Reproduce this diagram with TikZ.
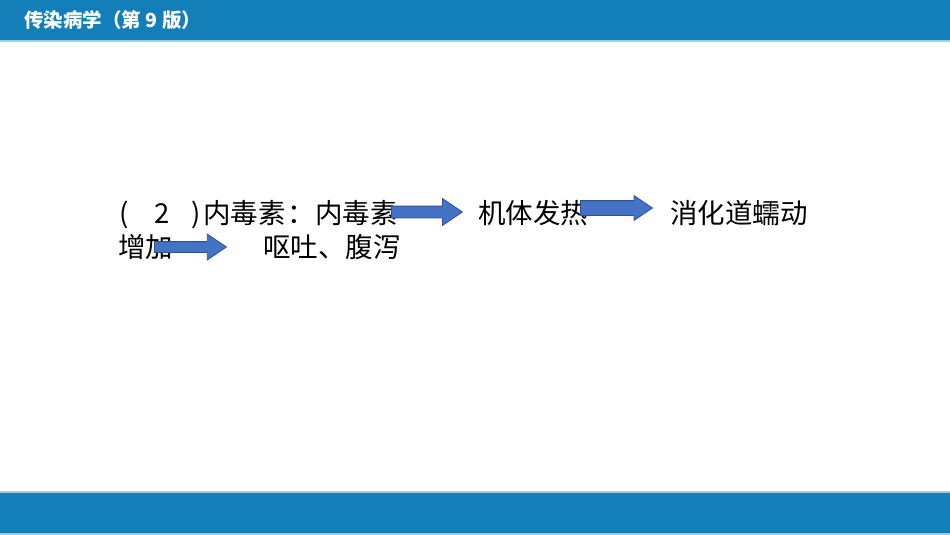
\documentclass[tikz,border=0pt]{standalone}
\usepackage{fontspec}
\setmainfont{Noto Sans CJK SC}
\usetikzlibrary{shapes.arrows}
\definecolor{bandblue}{RGB}{18,127,184}
\definecolor{bandline}{RGB}{150,208,238}
\definecolor{arrowblue}{RGB}{68,114,196}
\definecolor{arrowedge}{RGB}{47,82,143}

\begin{document}
\begin{tikzpicture}[x=1pt,y=-1pt,
    body/.style={anchor=base west,inner sep=0pt,font=\fontsize{27.5}{34}\selectfont},
    blockarrow/.style={single arrow,draw=arrowedge,line width=0.8pt,fill=arrowblue,
        inner xsep=0pt,single arrow tip angle=68,anchor=tail}]
    \useasboundingbox (0,0) rectangle (950,535);

    % Header and footer bands
    \fill[bandblue] (0,0) rectangle (950,40);
    \fill[bandline] (0,40) rectangle (950,42);
    \fill[bandline] (0,491) rectangle (950,493);
    \fill[bandblue] (0,493) rectangle (950,533);
    \fill[bandline] (0,533) rectangle (950,535);
    \node[anchor=west,inner sep=0pt,text=white,font=\fontsize{19.5}{22}\selectfont\bfseries] (title) at (24,20) {传染病学（第 9 版）};

    % Text
    \node[body] (toxin) at (119,223) {(\hspace{26pt}2\hspace{22pt})\hspace{2pt}内毒素\hspace{2pt}：内毒素};
    \node[body] (fever) at (478,223) {机体发热};
    \node[body] (motility) at (670,223) {消化道蠕动};
    \node[body] (increase) at (118,257) {增加};
    \node[body] (vomit) at (263,257) {呕吐、腹泻};

    % Block arrows
    \node[blockarrow,minimum height=71pt,inner ysep=5.5pt,single arrow head extend=7.5pt] (arrA) at (391,212) {};
    \node[blockarrow,minimum height=72pt,inner ysep=7pt,single arrow head extend=5pt] (arrB) at (580,208) {};
    \node[blockarrow,minimum height=72pt,inner ysep=5pt,single arrow head extend=7.5pt] (arrC) at (154,247) {};
\end{tikzpicture}
\end{document}
